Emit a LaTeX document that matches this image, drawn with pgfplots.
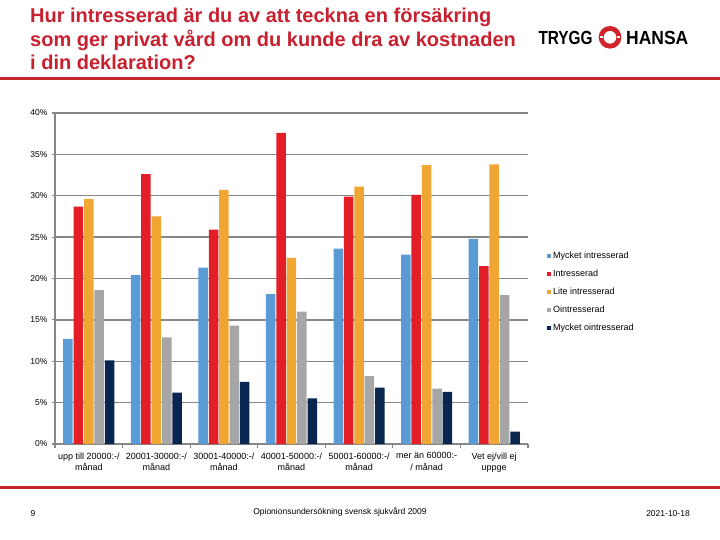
\documentclass[border=0pt]{standalone}
\usepackage{fontspec}
\setmainfont{Liberation Sans}
\usepackage{pgfplots}
\usepackage{pgfplotstable}
\pgfplotsset{compat=1.18}
\definecolor{cblue}{HTML}{5B9BD5}
\definecolor{cred}{HTML}{E41E26}
\definecolor{corange}{HTML}{EFA632}
\definecolor{cgray}{HTML}{A6A6A6}
\definecolor{cnavy}{HTML}{08264F}
\definecolor{gridgray}{HTML}{868686}
\definecolor{titlered}{HTML}{C8202F}
\definecolor{linered}{HTML}{C4262E}
\definecolor{logored}{HTML}{D2232A}
\pgfplotstableread{
x blue red orange gray navy
0 12.7 28.7 29.6 18.6 10.1
1 20.4 32.6 27.5 12.9 6.2
2 21.3 25.9 30.7 14.3 7.5
3 18.1 37.6 22.5 16.0 5.5
4 23.6 29.9 31.1 8.2 6.8
5 22.9 30.1 33.7 6.7 6.3
6 24.8 21.5 33.8 18.0 1.5
}\datatable
\begin{document}
\begin{tikzpicture}
\useasboundingbox[fill=white] (0pt,0pt) rectangle (720pt,-540pt);
% title
\begin{scope}[every node/.style={anchor=base west, inner sep=0pt, text=titlered, font=\fontsize{20}{24}\selectfont\bfseries}]
\node at (30pt,-22.7pt) {Hur intresserad är du av att teckna en försäkring};
\node at (30pt,-46.3pt) {som ger privat vård om du kunde dra av kostnaden};
\node at (30pt,-70pt) {i din deklaration?};
\end{scope}
\draw[linered, line width=3pt] (0pt,-78.3pt) -- (720pt,-78.3pt);
% logo
\node[anchor=base west, inner sep=0pt, font=\fontsize{19}{22}\selectfont\bfseries] at (538.3pt,-44.3pt) {\scalebox{0.81}[1]{TRYGG}};
\node[anchor=base west, inner sep=0pt, font=\fontsize{19}{22}\selectfont\bfseries] at (626pt,-44.3pt) {\scalebox{0.92}[1]{HANSA}};
\draw[logored, line width=4.8pt] (610pt,-37.3pt) circle (8.9pt);
\fill[white] (600pt,-38.5pt) rectangle (603pt,-36.1pt);
\fill[white] (617pt,-38.5pt) rectangle (620pt,-36.1pt);
% footer
\draw[linered, line width=3pt] (0pt,-487pt) -- (720pt,-487pt);
\begin{scope}[every node/.style={anchor=base, inner sep=0pt, font=\fontsize{8.5}{10}\selectfont}]
\node at (33pt,-516pt) {9};
\node at (340pt,-514.5pt) {Opionionsundersökning svensk sjukvård 2009};
\node at (668pt,-516pt) {2021-10-18};
\end{scope}
\begin{axis}[
  at={(55pt,-444pt)}, anchor=south west,
  scale only axis, width=473pt, height=331pt,
  xmin=-0.5, xmax=6.5, ymin=0, ymax=40,
  ybar=0.9pt, bar width=9.5pt,
  axis lines*=left,
  axis line style={draw=gridgray, line width=1.3pt},
  ytick={0,5,...,40},
  /pgf/number format/assume math mode=true,
  yticklabel={\pgfmathprintnumber{\tick}\%},
  yticklabel style={font=\fontsize{8.5}{10}\selectfont, xshift=-1pt},
  ymajorgrids,
  grid style={draw=gridgray, line width=1.3pt},
  tick align=outside, major tick length=3pt,
  ytick style={draw=gridgray, line width=1.2pt},
  xtick={0,...,6},
  xtick style={draw=none},
  xticklabels={{upp till 20000:-/\\månad},{20001-30000:-/\\månad},{30001-40000:-/\\månad},{40001-50000:-/\\månad},{50001-60000:-/\\månad},{mer än 60000:-\\/ månad},{Vet ej/vill ej\\uppge}},
  xticklabel style={align=center, font=\fontsize{9}{11.5}\selectfont, yshift=-2pt},
  extra x ticks={-0.5,0.5,...,6.5},
  extra x tick labels={},
  extra x tick style={xtick style={draw=gridgray, line width=1.2pt}, major tick length=4pt},
  legend image code/.code={\fill[#1] (0pt,-2pt) rectangle (4pt,2pt);},
  legend style={at={(1.0338,0.5935)}, anchor=north west, draw=none, fill=none,
    font=\fontsize{9}{11}\selectfont, row sep=5.5pt,
    nodes={inner sep=2pt, text height=6.5pt, text depth=2pt}},
  legend cell align=left,
]
\addplot[fill=cblue, draw=none] table[x=x, y=blue] {\datatable};
\addplot[fill=cred, draw=none] table[x=x, y=red] {\datatable};
\addplot[fill=corange, draw=none] table[x=x, y=orange] {\datatable};
\addplot[fill=cgray, draw=none] table[x=x, y=gray] {\datatable};
\addplot[fill=cnavy, draw=none] table[x=x, y=navy] {\datatable};
\legend{Mycket intresserad, Intresserad, Lite intresserad, Ointresserad, Mycket ointresserad}
\end{axis}
\end{tikzpicture}
\end{document}
